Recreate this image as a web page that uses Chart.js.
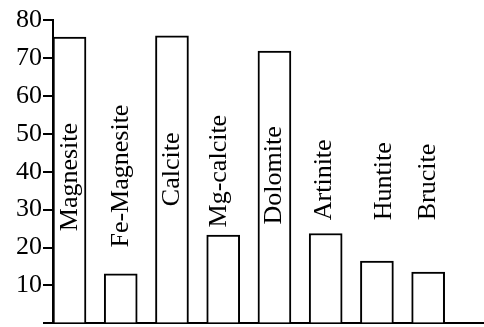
<!DOCTYPE html>
<html>
<head>
<meta charset="utf-8">
<script src="https://cdn.jsdelivr.net/npm/chart.js@4"></script>
<style>
  html, body { margin: 0; padding: 0; background: #fff; }
  #wrap { width: 484px; height: 327px; }
</style>
</head>
<body>
<div id="wrap"><canvas id="c" width="484" height="327"></canvas></div>
<script>
// Mineral names, one per bar
const minerals = ['Magnesite', 'Fe-Magnesite', 'Calcite', 'Mg-calcite', 'Dolomite', 'Artinite', 'Huntite', 'Brucite'];
// Bar heights
const values = [75.5, 13.1, 75.8, 23.3, 71.8, 23.7, 16.4, 13.5];
// Y axis tick values
const yTicks = [0, 10, 20, 30, 40, 50, 60, 70, 80];

// Where each vertical name starts (in axis units) and its sideways nudge (px)
const nameStart = [24.3, 20.0, 30.9, 25.3, 26.1, 27.2, 27.2, 27.2];
const nameShift = [1, 0, 0, -4, 0, -2, 7, 0];

const FONT = "'Liberation Serif', 'Times New Roman', serif";
Chart.defaults.font.family = FONT;
Chart.defaults.color = '#000';

// Draws each mineral name turned upright next to / inside its bar
const verticalNames = {
  id: 'verticalNames',
  afterDatasetsDraw(chart) {
    const { ctx, scales } = chart;
    ctx.save();
    ctx.fillStyle = '#000';
    ctx.font = '26px ' + FONT;
    ctx.textAlign = 'left';
    ctx.textBaseline = 'middle';
    minerals.forEach((name, i) => {
      const x = scales.x.getPixelForValue(i) + nameShift[i];
      const y = scales.y.getPixelForValue(nameStart[i]);
      ctx.save();
      ctx.translate(x, y);
      ctx.rotate(-Math.PI / 2);
      ctx.fillText(name, 0, 0);
      ctx.restore();
    });
    ctx.restore();
  }
};

new Chart(document.getElementById('c'), {
  type: 'bar',
  data: {
    datasets: [{
      data: values.map((v, i) => ({ x: i, y: v })),
      backgroundColor: '#ffffff',
      borderColor: '#000000',
      borderWidth: 2,
      borderSkipped: 'bottom',
      barThickness: 33
    }]
  },
  options: {
    responsive: false,
    animation: false,
    layout: { padding: { top: 20, bottom: 3, left: 0, right: 0 } },
    plugins: { legend: { display: false }, tooltip: { enabled: false } },
    scales: {
      x: {
        type: 'linear',
        offset: false,
        min: -0.322,
        max: 8.09,
        ticks: { display: false },
        grid: { display: false },
        border: { display: true, color: '#000', width: 2 },
        afterFit(scale) { scale.height = 0; }
      },
      y: {
        min: 0,
        max: 80,
        afterBuildTicks(scale) { scale.ticks = yTicks.map(v => ({ value: v })); },
        ticks: {
          color: '#000',
          font: { family: FONT, size: 26, lineHeight: 0.2 },
          padding: 1,
          callback: v => (v === 0 ? '' : String(v))
        },
        grid: { drawOnChartArea: false, color: '#000', lineWidth: 2, tickLength: 10 },
        border: { display: true, color: '#000', width: 2 },
        afterFit(scale) { scale.width = 53; }
      }
    }
  },
  plugins: [verticalNames]
});
</script>
</body>
</html>
